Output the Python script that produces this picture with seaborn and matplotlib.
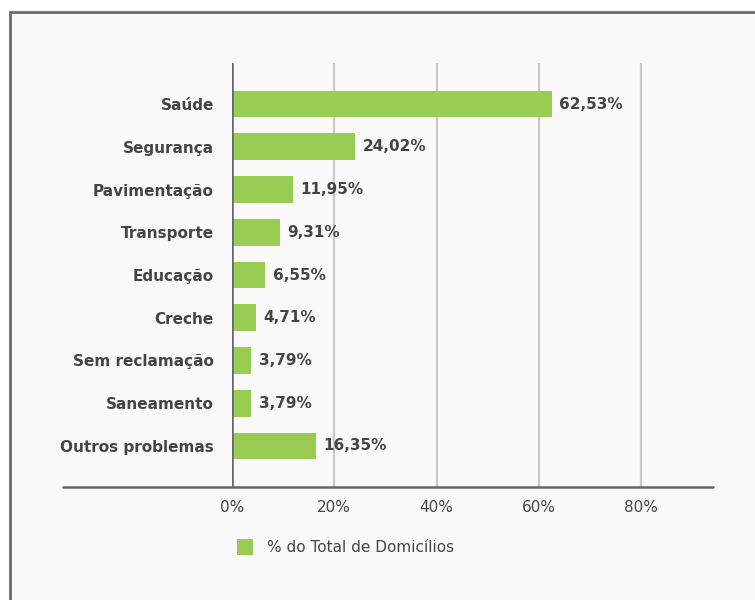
import numpy as np
import pandas as pd
import matplotlib
matplotlib.use("Agg")
import matplotlib.pyplot as plt
import seaborn as sns
from matplotlib.patches import Rectangle

# data
categorias = ["Saúde", "Segurança", "Pavimentação", "Transporte", "Educação",
              "Creche", "Sem reclamação", "Saneamento", "Outros problemas"]
valores = [62.53, 24.02, 11.95, 9.31, 6.55, 4.71, 3.79, 3.79, 16.35]
rotulos = ["62,53%", "24,02%", "11,95%", "9,31%", "6,55%", "4,71%", "3,79%", "3,79%", "16,35%"]
ticks_x = [0, 20, 40, 60, 80]
ticks_lbl = ["0%", "20%", "40%", "60%", "80%"]
serie = "% do Total de Domicílios"

df = pd.DataFrame({"categoria": categorias, "valor": valores})

sns.set_style("white")
plt.rcParams["font.family"] = ["DejaVu Sans"]

verde = "#99cc52"
texto = "#444444"
W, H = 755, 600
fig = plt.figure(figsize=(7.55, 6.0), dpi=100)
fig.patch.set_facecolor("white")

# card background with border
fig.patches.append(Rectangle((10 / W, -0.1), 1.2, 1 - 12 / H + 0.1, transform=fig.transFigure,
                             facecolor="#f9f9f9", edgecolor="#6b6b6b", linewidth=2, zorder=-10))

ax = fig.add_axes([232 / W, 1 - 487 / H, (713 - 232) / W, (487 - 63) / H])
ax.set_zorder(2)
ax.set_facecolor("none")

sns.barplot(data=df, x="valor", y="categoria", color=verde, width=0.63,
            saturation=1, linewidth=0, ax=ax, zorder=3)

ax.set_xlim(0, 94.08)
ax.set_ylim(8.96, -0.96)
ax.set_xticks(ticks_x)
ax.set_xticklabels(ticks_lbl, fontsize=11, color=texto)
ax.tick_params(axis="x", length=0, pad=9)
ax.tick_params(axis="y", length=0, pad=13)
for t in ax.get_yticklabels():
    t.set_fontsize(11)
    t.set_color(texto)
    t.set_fontweight("semibold")
ax.set_xlabel("")
ax.set_ylabel("")

for x in ticks_x[1:]:
    ax.axvline(x, color="#c8c8c8", linewidth=1.6, zorder=1)
ax.axvline(0, color="#666666", linewidth=1.8, zorder=4)
for s in ax.spines.values():
    s.set_visible(False)
ax.plot([-33.06, 94.08], [0, 0], transform=ax.get_xaxis_transform(),
        color="#666666", linewidth=1.8, clip_on=False, zorder=4)

for i, (v, r) in enumerate(zip(valores, rotulos)):
    ax.text(v + 1.5, i, r, va="center", ha="left", fontsize=11,
            fontweight="bold", color=texto, zorder=5)

# legend
fig.patches.append(Rectangle((237 / W, 1 - 555 / H), 16 / W, 16 / H, transform=fig.transFigure,
                             facecolor=verde, edgecolor="none", zorder=2))
fig.text(267 / W, 1 - 547 / H, serie, fontsize=11, color=texto, va="center", ha="left")

fig.savefig("out.png", dpi=100)
